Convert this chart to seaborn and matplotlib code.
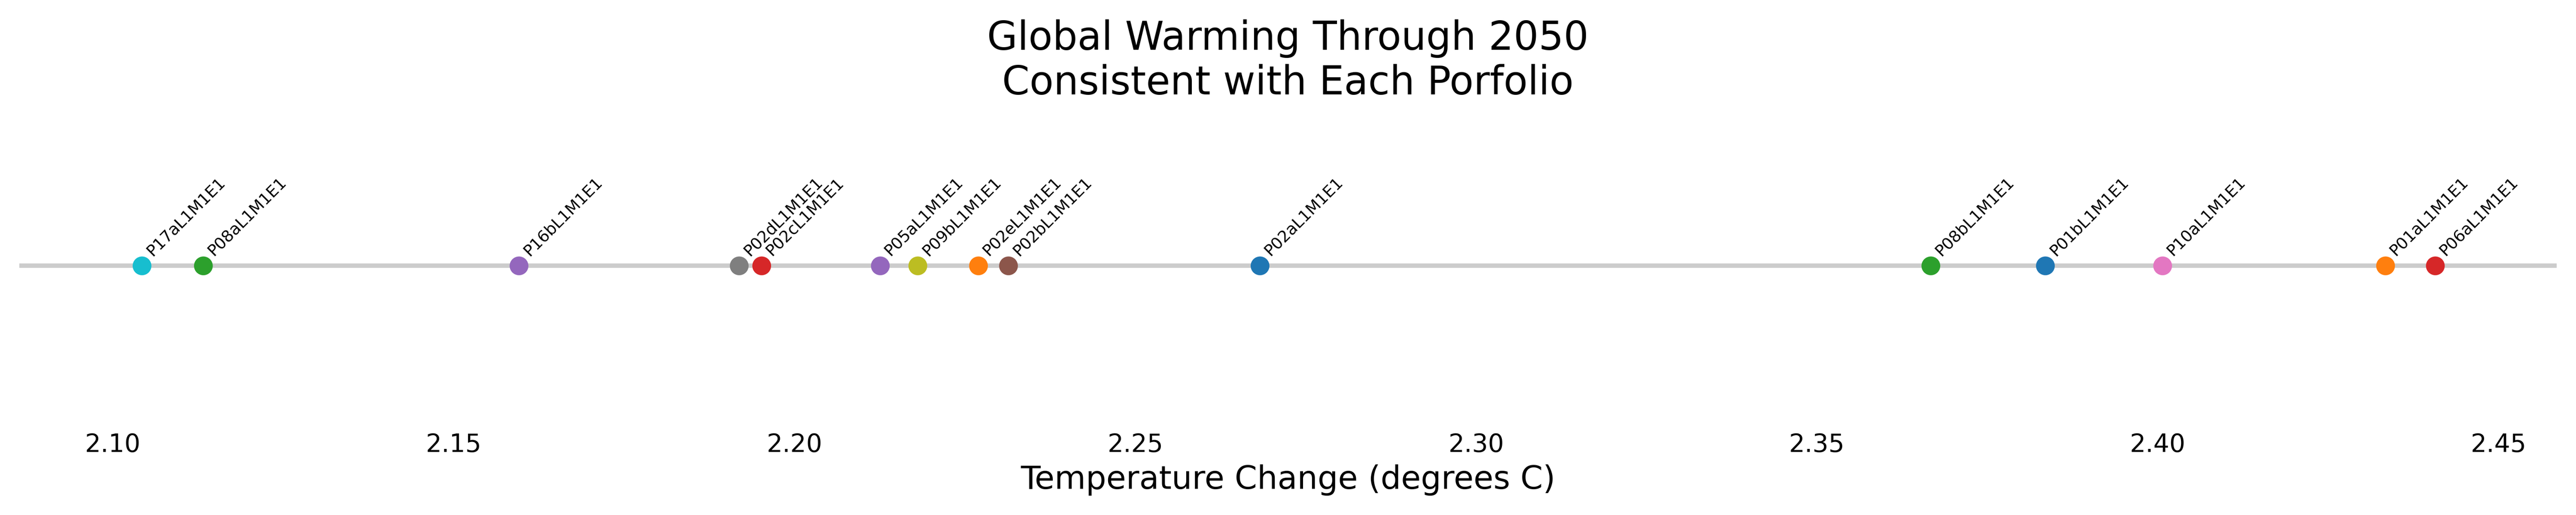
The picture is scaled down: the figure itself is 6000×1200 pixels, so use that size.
import matplotlib
matplotlib.use("Agg")
import matplotlib.pyplot as plt
import seaborn as sns
import pandas as pd

# portfolio warming values
portfolios = ["P17aL1M1E1", "P08aL1M1E1", "P16bL1M1E1", "P02dL1M1E1", "P02cL1M1E1",
              "P05aL1M1E1", "P09bL1M1E1", "P02eL1M1E1", "P02bL1M1E1", "P02aL1M1E1",
              "P08bL1M1E1", "P01bL1M1E1", "P10aL1M1E1", "P01aL1M1E1", "P06aL1M1E1"]
warming = [2.1043, 2.1133, 2.1596, 2.1919, 2.1952,
           2.2126, 2.2181, 2.2270, 2.2314, 2.2683,
           2.3667, 2.3835, 2.4007, 2.4334, 2.4407]
colors = ["#17becf", "#2ca02c", "#9467bd", "#7f7f7f", "#d62728",
          "#9467bd", "#bcbd22", "#ff7f0e", "#8c564b", "#1f77b4",
          "#2ca02c", "#1f77b4", "#e377c2", "#ff7f0e", "#d62728"]

df = pd.DataFrame({"portfolio": portfolios, "warming": warming, "y": 0.0})

sns.set_style("white")
plt.rcParams["text.color"] = "black"
plt.rcParams["xtick.color"] = "black"
plt.rcParams["axes.labelcolor"] = "black"
fig, ax = plt.subplots(figsize=(20, 4), dpi=300)

ax.axhline(0, color="#cccccc", lw=2.5, zorder=1)
sns.scatterplot(data=df, x="warming", y="y", hue="portfolio", palette=colors,
                s=110, edgecolor="none", legend=False, ax=ax, zorder=3)

for name, x in zip(portfolios, warming):
    ax.annotate(name, (x, 0), xytext=(1, 4), textcoords="offset points",
                rotation=45, fontsize=9, ha="left", va="bottom")

ax.set_xlim(2.0863, 2.4585)
ax.set_ylim(-1, 1)
ax.set_yticks([])
ax.tick_params(axis="x", labelsize=14, length=0)
ax.set_xlabel("Temperature Change (degrees C)", fontsize=18)
ax.set_ylabel("")
ax.set_title("Global Warming Through 2050\nConsistent with Each Porfolio", fontsize=22)
sns.despine(left=True, bottom=True)

plt.tight_layout()
plt.savefig("out.png")
